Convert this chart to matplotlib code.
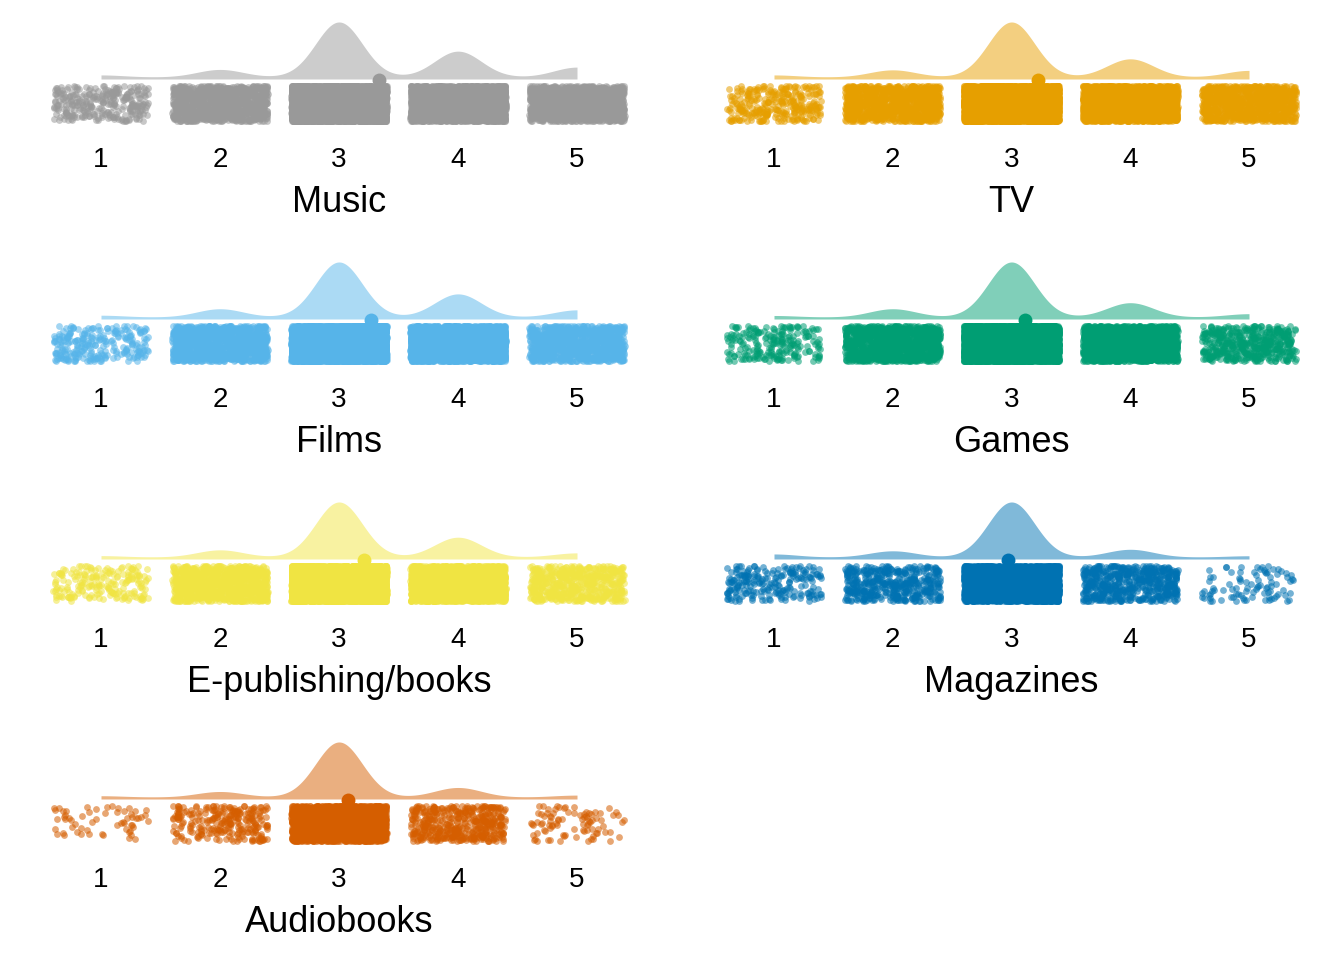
import numpy as np
import matplotlib
matplotlib.use('Agg')
import matplotlib.pyplot as plt
from matplotlib.colors import to_rgb

plt.rcParams['font.family'] = ['Liberation Sans', 'DejaVu Sans']

# survey categories and response counts for levels 1..5
categories = ['Music', 'TV', 'Films', 'Games', 'E-publishing/books', 'Magazines', 'Audiobooks']
levels = [1, 2, 3, 4, 5]
music_counts = [300, 1100, 8000, 3760, 1440]
tv_counts = [300, 1040, 8000, 2640, 960]
films_counts = [260, 1200, 8000, 3360, 1040]
games_counts = [220, 1200, 8000, 2080, 480]
epub_counts = [200, 1040, 8000, 2880, 600]
magazines_counts = [220, 450, 4000, 560, 90]
audiobooks_counts = [60, 260, 2600, 450, 90]
all_counts = [music_counts, tv_counts, films_counts, games_counts,
              epub_counts, magazines_counts, audiobooks_counts]
colors = ['#999999', '#E69F00', '#56B4E9', '#009E73', '#F0E442', '#0072B2', '#D55E00']

W, H = 1344, 960
fig = plt.figure(figsize=(W / 100, H / 100), dpi=100)

rng = np.random.default_rng(7)  # only for the jitter positions
bw = 0.195


def blend(c, a):
    r = np.array(to_rgb(c))
    return tuple(a * r + (1 - a) * 1.0)


for i, (name, counts, col) in enumerate(zip(categories, all_counts, colors)):
    row, c = i // 2, i % 2
    if c == 0:
        x0, unit = 101, 119.0
    else:
        x0, unit = 774, 118.75
    left_px = x0 - 0.5 * unit
    top_px = 18 + 240 * row
    ax = fig.add_axes([left_px / W, 1 - (top_px + 110) / H, 5 * unit / W, 110 / H])
    ax.set_xlim(0.5, 5.5)
    ax.set_ylim(-50, 60)

    # density of the responses (scaled to a fixed height)
    vals = np.repeat(levels, counts)
    xs = np.linspace(1, 5, 400)
    dens = np.zeros_like(xs)
    for lv, n in zip(levels, counts):
        dens += n * np.exp(-0.5 * ((xs - lv) / bw) ** 2)
    dens = dens / dens.max() * 55
    fc = blend(col, 0.5)
    ax.fill_between(xs, -1, dens + 1, color=fc, lw=0)

    # jittered raw points
    for lv, n in zip(levels, counts):
        jx = lv + rng.uniform(-0.4, 0.4, n)
        jy = rng.uniform(-43.5, -7.5, n)
        ax.scatter(jx, jy, s=24, color=col, alpha=0.55, linewidths=0)

    # mean
    ax.scatter([vals.mean()], [-2], s=100, color=col, linewidths=0, zorder=3)

    ax.set_xticks(levels)
    ax.set_xticklabels([str(l) for l in levels], fontsize=20)
    ax.tick_params(axis='x', length=0, pad=14)
    ax.set_yticks([])
    ax.set_xlabel(name, fontsize=26, labelpad=8)
    for s in ax.spines.values():
        s.set_visible(False)
    ax.patch.set_visible(False)

fig.savefig('out.png', dpi=100, facecolor='white')
